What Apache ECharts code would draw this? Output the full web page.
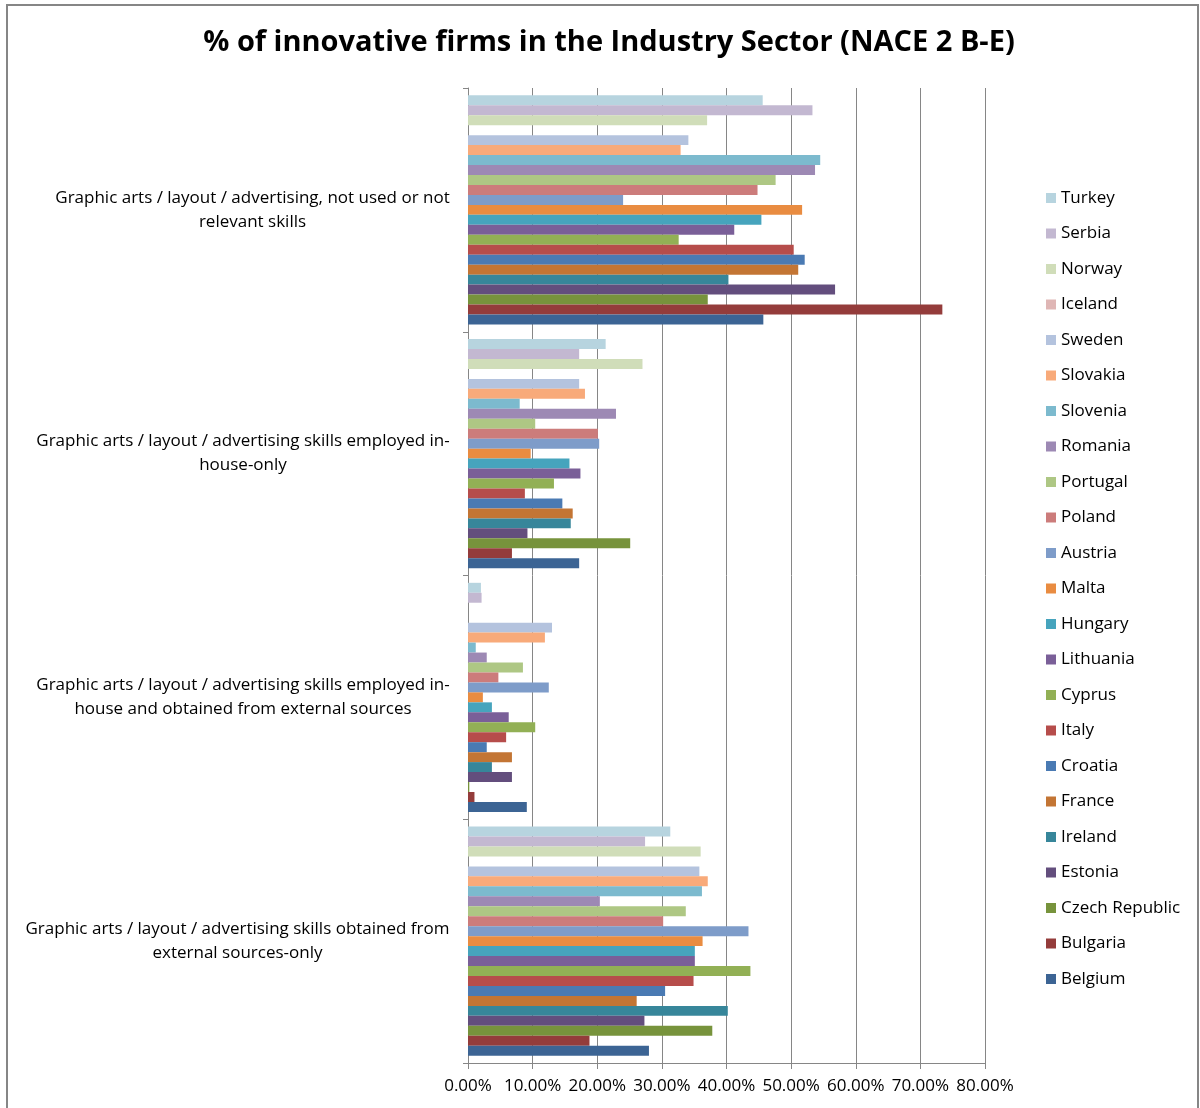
<!DOCTYPE html>
<html>
<head>
<meta charset="utf-8">
<script src="https://cdn.jsdelivr.net/npm/echarts@6/dist/echarts.min.js"></script>
<style>
html, body { margin: 0; padding: 0; background: #fff; }
#chart { width: 1200px; height: 1108px; }
</style>
</head>
<body>
<div id="chart"></div>
<script>
// countries, top of each group to bottom (same as legend order)
var countries = ['Turkey', 'Serbia', 'Norway', 'Iceland', 'Sweden', 'Slovakia', 'Slovenia', 'Romania',
	'Portugal', 'Poland', 'Austria', 'Malta', 'Hungary', 'Lithuania', 'Cyprus', 'Italy', 'Croatia',
	'France', 'Ireland', 'Estonia', 'Czech Republic', 'Bulgaria', 'Belgium'];

// categories, bottom to top
var categories = [
	'Graphic arts / layout / advertising skills obtained from\nexternal sources-only',
	'Graphic arts / layout / advertising skills employed in-\nhouse and obtained from external sources',
	'Graphic arts / layout / advertising skills employed in-\nhouse-only',
	'Graphic arts / layout / advertising, not used or not\nrelevant skills'
];

// values in %, one per country (same order as countries)
var externalOnly = [31.3, 27.4, 36.0, null, 35.8, 37.1, 36.2, 20.4, 33.7, 30.2, 43.4, 36.3, 35.1, 35.1, 43.7, 34.9, 30.5, 26.1, 40.2, 27.3, 37.8, 18.8, 28.0];
var inHouseAndExternal = [2.0, 2.1, 0, null, 13.0, 11.9, 1.2, 2.9, 8.5, 4.7, 12.5, 2.3, 3.7, 6.3, 10.4, 5.9, 2.9, 6.8, 3.7, 6.8, 0.2, 1.0, 9.1];
var inHouseOnly = [21.3, 17.2, 27.0, null, 17.2, 18.1, 8.0, 22.9, 10.4, 20.1, 20.3, 9.7, 15.7, 17.4, 13.3, 8.8, 14.6, 16.2, 15.9, 9.2, 25.1, 6.8, 17.2];
var notUsed = [45.6, 53.3, 37.0, null, 34.1, 32.9, 54.5, 53.7, 47.6, 44.8, 24.0, 51.7, 45.4, 41.2, 32.6, 50.4, 52.1, 51.1, 40.3, 56.8, 37.1, 73.4, 45.7];

var xTicks = [0, 10, 20, 30, 40, 50, 60, 70, 80];

var palette = ['#B7D4DF', '#C3B8D1', '#D0DDB9', '#DFB6B5', '#B4C3DE', '#F8AA7A', '#7CBACE', '#9D89B4',
	'#AEC784', '#CC7C7B', '#7E9CC9', '#E98C41', '#46A4BD', '#7A5F98', '#92B055', '#B64D4B', '#4A7AB3',
	'#C37534', '#37869A', '#634E7D', '#77933C', '#943C3B', '#3C6494'];

var labelSize = 17;
var fontFamily = '"Open Sans", "DejaVu Sans", sans-serif';

// width of the longest line of each category label, so the lines can be centred in their own box
var ctx = document.createElement('canvas').getContext('2d');
ctx.font = labelSize + 'px "Open Sans"';
var rich = {};
categories.forEach(function (c, i) {
	var w = 0;
	c.split('\n').forEach(function (line) { w = Math.max(w, ctx.measureText(line).width); });
	rich['l' + i] = { width: Math.ceil(w), align: 'center', fontSize: labelSize, lineHeight: 24, color: '#000', fontFamily: fontFamily };
});

var series = countries.map(function (name, i) {
	return {
		name: name,
		type: 'bar',
		barGap: 0,
		barCategoryGap: '6%',
		itemStyle: { color: palette[i] },
		data: [externalOnly[i], inHouseAndExternal[i], inHouseOnly[i], notUsed[i]]
	};
});

var myChart = echarts.init(document.getElementById('chart'));
var option = {
	animation: false,
	title: {
		text: '% of innovative firms in the Industry Sector (NACE 2 B-E)',
		left: 604,
		textAlign: 'center',
		top: 23,
		textStyle: { fontFamily: fontFamily, fontSize: 29, fontWeight: 'bold', color: '#000' }
	},
	graphic: [{
		type: 'rect',
		shape: { x: 7, y: 5, width: 1191, height: 1130 },
		style: { fill: 'none', stroke: '#868686', lineWidth: 2 },
		silent: true
	}],
	legend: {
		orient: 'vertical',
		left: 1046,
		top: 188,
		padding: 0,
		data: countries,
		icon: 'rect',
		itemWidth: 10,
		itemHeight: 10,
		itemGap: 15.5,
		itemTextGap: 5,
		textStyle: { fontFamily: fontFamily, fontSize: 17, color: '#000', lineHeight: 20 }
	},
	grid: { left: 468, right: 215, top: 88, bottom: 45 },
	xAxis: {
		type: 'value',
		min: xTicks[0],
		max: xTicks[xTicks.length - 1],
		interval: xTicks[1] - xTicks[0],
		axisLine: { show: true, lineStyle: { color: '#868686' } },
		axisTick: { show: true, length: 6, lineStyle: { color: '#868686' } },
		splitLine: { show: true, lineStyle: { color: '#868686', width: 1 } },
		axisLabel: {
			margin: 15,
			fontFamily: fontFamily,
			fontSize: 17,
			color: '#000',
			formatter: function (v) { return v.toFixed(2) + '%'; }
		}
	},
	yAxis: {
		type: 'category',
		data: categories,
		axisLine: { show: true, lineStyle: { color: '#868686' } },
		axisTick: { show: true, length: 5, lineStyle: { color: '#868686' } },
		axisLabel: {
			align: 'right',
			margin: 18,
			formatter: function (v, i) {
				return v.split('\n').map(function (line) { return '{l' + i + '|' + line + '}'; }).join('\n');
			},
			rich: rich
		}
	},
	series: series
};
myChart.setOption(option);
</script>
</body>
</html>
